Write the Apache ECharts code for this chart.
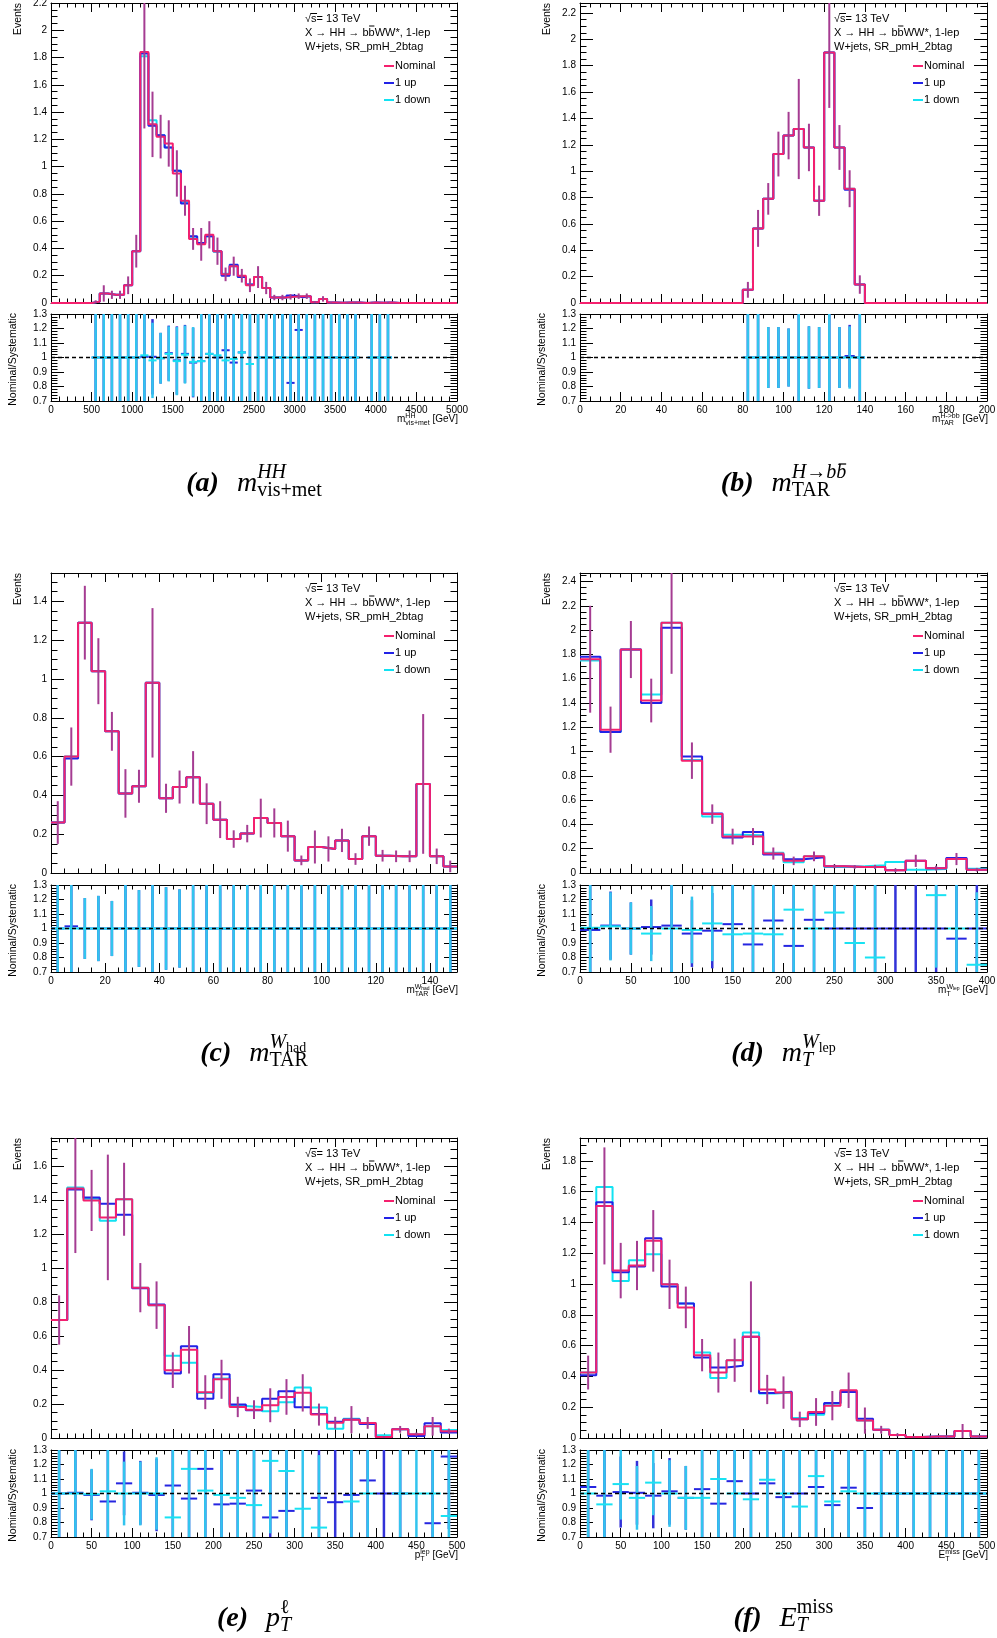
<!DOCTYPE html>
<html>
<head>
<meta charset="utf-8">
<title>W+jets, SR_pmH_2btag systematic variations</title>
<script src="https://cdn.jsdelivr.net/npm/echarts@6.0.0/dist/echarts.min.js"></script>
<style>
html,body{margin:0;padding:0;background:#fff;}
#chart{width:997px;height:1638px;}
</style>
</head>
<body>
<div id="chart"></div>
<script>
// ======================= DATA =======================
// (a) m_vis+met^HH : 50 bins, 0 - 5000 GeV
const aRange = [0, 5000];
const aNominal = [0,0,0,0,0, 0.01,0.07,0.06,0.06,0.13, 0.38,1.84,1.31,1.22,1.17, 0.95,0.75,0.47,0.43,0.50, 0.38,0.21,0.27,0.20,0.13, 0.19,0.11,0.04,0.04,0.045, 0.05,0.05,0.005,0.03,0.003, 0.002,0.003,0.003,0,0.004, 0.002,0.004,0,0,0, 0,0,0,0,0];
const aUp      = [0,0,0,0,0, 0.01,0.07,0.06,0.06,0.13, 0.38,1.83,1.30,1.23,1.14, 0.97,0.73,0.49,0.44,0.49, 0.38,0.20,0.28,0.19,0.136, 0.19,0.11,0.04,0.04,0.055, 0.042,0.05,0.005,0.03,0.003, 0.002,0.003,0.003,0,0.004, 0.002,0.004,0,0,0, 0,0,0,0,0];
const aDown    = [0,0,0,0,0, 0.01,0.07,0.06,0.06,0.13, 0.38,1.81,1.34,1.23,1.14, 0.97,0.74,0.485,0.44,0.49, 0.375,0.215,0.27,0.19,0.136, 0.19,0.11,0.04,0.04,0.045, 0.05,0.05,0.005,0.03,0.003, 0.002,0.003,0.003,0,0.004, 0.002,0.004,0,0,0, 0,0,0,0,0];
const aErr     = [0,0,0,0,0, 0.01,0.06,0.03,0.03,0.065, 0.12,0.56,0.24,0.16,0.17, 0.17,0.11,0.08,0.12,0.10, 0.10,0.05,0.07,0.05,0.05, 0.08,0.045,0.02,0.02,0.02, 0.02,0.02,0.005,0.02,0.003, 0.002,0.003,0.003,0,0.004, 0.002,0.004,0,0,0, 0,0,0,0,0];
const aRatioUp   = [null,null,null,null,null, 1,1,1,1,1, 1,1.005,1.005,0.995,1.03, 0.98,1.025,0.965,0.975,1.025, 1.0,1.05,0.965,1.035,0.955, 1,1,1,1,0.825, 1.19,1,1,1,1, 1,1,1,null,1, 1,1,null,null,null, null,null,null,null,null];
const aRatioDown = [null,null,null,null,null, 1,1,1,1,1, 1,1.015,0.98,0.995,1.025, 0.975,1.02,0.97,0.975,1.025, 1.015,0.98,0.99,1.035,0.955, 1,1,1,1,1, 1,1,1,1,1, 1,1,1,null,1, 1,1,null,null,null, null,null,null,null,null];
const aRatioErr  = [null,null,null,null,null, 0.5,0.5,0.5,0.5,0.5, 0.5,0.35,0.26,0.175,0.19, 0.235,0.2,0.24,0.5,0.5, 0.5,0.5,0.5,0.5,0.5, 0.5,0.5,0.5,0.5,0.5, 0.5,0.5,0.5,0.5,0.5, 0.5,0.5,0.5,null,0.5, 0.5,0.5,null,null,null, null,null,null,null,null];

// (b) m_TAR^{H->bb} : 40 bins, 0 - 200 GeV
const bRange = [0, 200];
const bNominal = [0,0,0,0,0,0,0,0,0,0, 0,0,0,0,0,0,0.10,0.566,0.79,1.13, 1.27,1.32,1.18,0.776,1.90,1.18,0.867,0.14,0,0, 0,0,0,0,0,0,0,0,0,0];
const bUp      = [0,0,0,0,0,0,0,0,0,0, 0,0,0,0,0,0,0.10,0.566,0.79,1.13, 1.27,1.32,1.18,0.776,1.90,1.18,0.86,0.14,0,0, 0,0,0,0,0,0,0,0,0,0];
const bDown    = [0,0,0,0,0,0,0,0,0,0, 0,0,0,0,0,0,0.10,0.566,0.79,1.13, 1.27,1.32,1.18,0.776,1.90,1.18,0.867,0.14,0,0, 0,0,0,0,0,0,0,0,0,0];
const bErr     = [0,0,0,0,0,0,0,0,0,0, 0,0,0,0,0,0,0.06,0.14,0.12,0.17, 0.18,0.38,0.18,0.115,0.42,0.17,0.14,0.07,0,0, 0,0,0,0,0,0,0,0,0,0];
const bRatioUp   = [null,null,null,null,null,null,null,null,null,null, null,null,null,null,null,null,1,1,1,1, 1,1,1,1,1,1,1.01,1,null,null, null,null,null,null,null,null,null,null,null,null];
const bRatioDown = [null,null,null,null,null,null,null,null,null,null, null,null,null,null,null,null,1,1,1,1, 1,1,1,1,1,1,1,1,null,null, null,null,null,null,null,null,null,null,null,null];
const bRatioErr  = [null,null,null,null,null,null,null,null,null,null, null,null,null,null,null,null,0.5,0.5,0.21,0.21, 0.2,0.5,0.215,0.21,0.5,0.21,0.215,0.5,null,null, null,null,null,null,null,null,null,null,null,null];

// (c) m_TAR^{W_had} : 30 bins, 0 - 150 GeV
const cRange = [0, 150];
const cNominal = [0.26,0.60,1.29,1.04,0.73, 0.41,0.447,0.98,0.385,0.443, 0.493,0.357,0.275,0.175,0.203, 0.283,0.258,0.19,0.065,0.134, 0.124,0.168,0.072,0.19,0.089, 0.086,0.086,0.459,0.086,0.034];
const cUp      = [0.26,0.59,1.29,1.04,0.73, 0.41,0.447,0.98,0.385,0.443, 0.493,0.357,0.275,0.175,0.203, 0.283,0.258,0.19,0.065,0.134, 0.124,0.168,0.072,0.19,0.089, 0.086,0.086,0.459,0.086,0.034];
const cDown    = [0.26,0.60,1.29,1.04,0.73, 0.41,0.447,0.98,0.385,0.443, 0.493,0.357,0.275,0.175,0.203, 0.283,0.258,0.19,0.065,0.134, 0.124,0.168,0.072,0.19,0.089, 0.086,0.086,0.459,0.086,0.034];
const cErr     = [0.11,0.15,0.19,0.17,0.10, 0.125,0.085,0.385,0.075,0.085, 0.135,0.105,0.095,0.045,0.045, 0.10,0.075,0.08,0.025,0.085, 0.065,0.06,0.03,0.05,0.03, 0.03,0.03,0.36,0.04,0.03];
const cRatioUp   = [1,1.015,1,1,1, 1,1,1,1,1, 1,1,1,1,1, 1,1,1,1,1, 1,1,1,1,1, 1,1,1,1,1];
const cRatioDown = [1,1,1,1,1, 1,1,1,1,1, 1,1,1,1,1, 1,1,1,1,1, 1,1,1,1,1, 1,1,1,1,1];
const cRatioErr  = [0.5,0.5,0.21,0.225,0.19, 0.5,0.265,0.5,0.285,0.27, 0.5,0.5,0.5,0.5,0.5, 0.5,0.5,0.5,0.5,0.5, 0.5,0.5,0.5,0.5,0.5, 0.5,0.5,0.5,0.5,0.5];

// (d) m_T^{W_lep} : 20 bins, 0 - 400 GeV
const dRange = [0, 400];
const dNominal = [1.76,1.18,1.84,1.42,2.06, 0.925,0.485,0.30,0.30,0.16, 0.10,0.137,0.055,0.05,0.05, 0.022,0.10,0.04,0.115,0.027];
const dUp      = [1.78,1.16,1.84,1.40,2.02, 0.96,0.49,0.293,0.337,0.152, 0.114,0.13,0.055,0.05,0.05, 0.022,0.10,0.04,0.124,0.027];
const dDown    = [1.75,1.16,1.84,1.47,2.06, 0.93,0.466,0.315,0.31,0.167, 0.088,0.137,0.05,0.056,0.063, 0.09,0.027,0.033,0.115,0.036];
const dErr     = [0.44,0.19,0.235,0.18,0.42, 0.15,0.08,0.065,0.07,0.05, 0.035,0.04,0.015,0.015,0.017, 0.015,0.05,0.02,0.05,0.015];
const dRatioUp   = [0.99,1.02,1.0,1.01,1.02, 0.965,0.985,1.03,0.89,1.055, 0.88,1.06,1.0,1.0,1.0, 1.0,1.0,1.0,0.93,1.0];
const dRatioDown = [1.005,1.015,1.0,0.965,1.0, 0.99,1.035,0.96,0.965,0.96, 1.13,1.0,1.11,0.9,0.8, 0.24,3.7,1.23,1.0,0.75];
const dRatioErr  = [0.5,0.235,0.18,0.19,0.5, 0.23,0.26,0.5,0.5,0.5, 0.5,0.5,0.5,0.5,0.5, 0.5,0.5,0.5,0.5,0.5];

// (e) p_T^lep : 25 bins, 0 - 500 GeV
const eRange = [0, 500];
const eNominal = [0.695,1.47,1.40,1.30,1.407, 0.886,0.783,0.40,0.52,0.27, 0.346,0.183,0.167,0.193,0.242, 0.266,0.138,0.09,0.108,0.089, 0.006,0.051,0.022,0.069,0.04];
const eUp      = [0.695,1.465,1.417,1.38,1.315, 0.882,0.787,0.38,0.54,0.232, 0.376,0.197,0.164,0.231,0.275, 0.181,0.142,0.096,0.109,0.082, 0.006,0.051,0.012,0.087,0.032];
const eDown    = [0.695,1.476,1.41,1.28,1.407, 0.886,0.783,0.484,0.443,0.265, 0.35,0.189,0.182,0.157,0.21, 0.297,0.18,0.055,0.114,0.089, 0.016,0.051,0.022,0.069,0.047];
const eErr     = [0.145,0.38,0.18,0.37,0.215, 0.145,0.14,0.105,0.14,0.10, 0.115,0.06,0.055,0.1,0.105, 0.11,0.065,0.035,0.08,0.035, 0.005,0.02,0.01,0.055,0.015];
const eRatioUp   = [1.0,1.005,0.99,0.945,1.07, 1.005,0.99,1.055,0.965,1.17, 0.925,0.93,1.02,0.835,0.88, 1.47,0.97,0.94,0.99,1.09, 1.0,1.0,1.83,0.795,1.255];
const eRatioDown = [1.0,1.0,0.995,1.015,1.0, 1.0,1.0,0.835,1.17,1.02, 0.99,0.97,0.92,1.225,1.155, 0.895,0.765,1.64,0.945,1.0, 0.375,1.0,1.0,1.0,0.845];
const eRatioErr  = [0.5,0.5,0.175,0.5,0.22, 0.22,0.25,0.5,0.5,0.5, 0.5,0.5,0.5,0.5,0.5, 0.5,0.5,0.5,0.5,0.5, 0.5,0.5,0.5,0.5,0.5];

// (f) E_T^miss : 25 bins, 0 - 500 GeV
const fRange = [0, 500];
const fNominal = [0.425,1.507,1.087,1.12,1.28, 0.998,0.848,0.538,0.425,0.505, 0.657,0.315,0.295,0.121,0.169, 0.21,0.31,0.113,0.054,0.02, 0.006,0.01,0.01,0.046,0.01];
const fUp      = [0.408,1.53,1.076,1.113,1.297, 0.983,0.874,0.523,0.458,0.469, 0.657,0.293,0.3,0.121,0.162, 0.228,0.298,0.125,0.054,0.02, 0.006,0.01,0.01,0.046,0.01];
const fDown    = [0.425,1.63,1.02,1.154,1.193, 0.998,0.874,0.555,0.39,0.505, 0.685,0.289,0.295,0.13,0.151, 0.222,0.305,0.113,0.054,0.02, 0.006,0.01,0.01,0.046,0.01];
const fErr     = [0.11,0.38,0.18,0.16,0.2, 0.16,0.135,0.105,0.13,0.14, 0.36,0.095,0.105,0.05,0.09, 0.095,0.115,0.085,0.025,0.01, 0.005,0.005,0.005,0.045,0.005];
const fRatioUp   = [1.045,0.985,1.01,1.005,0.985, 1.015,0.97,1.03,0.93,1.085, 1.0,1.07,0.975,1.0,1.045, 0.92,1.04,0.90,1,1, 1,1,1,1,1];
const fRatioDown = [1.0,0.925,1.065,0.97,1.075, 1.0,0.97,0.97,1.10,1.0, 0.96,1.095,1.0,0.91,1.12, 0.945,1.015,1.0,1,1, 1,1,1,1,1];
const fRatioErr  = [0.5,0.5,0.245,0.22,0.225, 0.23,0.22,0.5,0.5,0.5, 0.5,0.5,0.5,0.5,0.5, 0.5,0.5,0.5,0.5,0.5, 0.5,0.5,0.5,0.5,0.5];

// Text labels
const infoLines = ['\u221As= 13 TeV', 'X \u2192 HH \u2192 bbWW*, 1-lep', 'W+jets, SR_pmH_2btag'];
const legendLabels = ['Nominal', '1 up', '1 down'];
const yTitleMain = 'Events';
const yTitleRatio = 'Nominal/Systematic';

// ======================= STYLE / LAYOUT =======================
const COL_NOM = '#f5206e', COL_UP = '#2222e6', COL_DN = '#12e2f2', COL_ERR = '#a53c92';
const COL_RUP_H = '#2525e0', COL_RUP_V = '#3232d8', COL_RDN_H = '#18e2f2', COL_RDN_V = '#32c4ee';
const SANS = 'Liberation Sans', SERIF = 'Liberation Serif';

const colL = [51, 580], colR = [457, 987];
const mainT = [3, 573, 1138], mainB = [303, 873, 1438];
const ratT = [314, 885, 1450], ratB = [401, 972, 1537];

function Lf(t, s, o) { return Object.assign({ t: t, s: s }, o || {}); }
const CAP = 28, SCR = 20, SS = 14, UPD = -13, DND = 5;
function capHead(letter) { return [Lf('(' + letter + ')', CAP, { i: 1, b: 1 }), { gap: 18 }]; }
const captions = [
  capHead('a').concat([Lf('m', CAP, { i: 1 }), { sup: [Lf('HH', SCR, { i: 1, dy: UPD })], sub: [Lf('vis+met', SCR, { dy: DND })] }]),
  capHead('b').concat([Lf('m', CAP, { i: 1 }), { sup: [Lf('H', SCR, { i: 1, dy: UPD }), Lf('\u2192', SCR, { dy: UPD }), Lf('b', SCR, { i: 1, dy: UPD }), Lf('b', SCR, { i: 1, dy: UPD, ov: 1 })], sub: [Lf('TAR', SCR, { dy: DND })] }]),
  capHead('c').concat([Lf('m', CAP, { i: 1 }), { sup: [Lf('W', SCR, { i: 1, dy: UPD }), { sub: [Lf('had', SS, { dy: UPD + 3 })] }], sub: [Lf('TAR', SCR, { dy: DND })] }]),
  capHead('d').concat([Lf('m', CAP, { i: 1 }), { sup: [Lf('W', SCR, { i: 1, dy: UPD }), { sub: [Lf('lep', SS, { dy: UPD + 3 })] }], sub: [Lf('T', SCR, { i: 1, dy: DND })] }]),
  capHead('e').concat([Lf('p', CAP, { i: 1 }), { sup: [Lf('\u2113', SCR, { dy: UPD })], sub: [Lf('T', SCR, { i: 1, dy: DND })] }]),
  capHead('f').concat([Lf('E', CAP, { i: 1 }), { sup: [Lf('miss', SCR, { dy: UPD })], sub: [Lf('T', SCR, { i: 1, dy: DND })] }])
];
const GEV = Lf(' [GeV]', 10);
const xTitles = [
  [Lf('m', 10), { sup: [Lf('HH', 7, { dy: -5 })], sub: [Lf('vis+met', 7, { dy: 2.5 })] }, GEV],
  [Lf('m', 10), { sup: [Lf('H->bb', 7, { dy: -5 })], sub: [Lf('TAR', 7, { dy: 2.5 })] }, GEV],
  [Lf('m', 10), { sup: [Lf('W', 7, { dy: -5 }), { sub: [Lf('had', 5, { dy: -3.5 })] }], sub: [Lf('TAR', 7, { dy: 2.5 })] }, GEV],
  [Lf('m', 10), { sup: [Lf('W', 7, { dy: -5 }), { sub: [Lf('lep', 5, { dy: -3.5 })] }], sub: [Lf('T', 7, { dy: 2.5 })] }, GEV],
  [Lf('p', 10), { sup: [Lf('lep', 7, { dy: -5 })], sub: [Lf('T', 7, { dy: 2.5 })] }, GEV],
  [Lf('E', 10), { sup: [Lf('miss', 7, { dy: -5 })], sub: [Lf('T', 7, { dy: 2.5 })] }, GEV]
];

const panels = [
  { range: aRange, nom: aNominal, up: aUp, dn: aDown, err: aErr, rUp: aRatioUp, rDn: aRatioDown, rErr: aRatioErr, xInt: 500, xSplit: 5, yMax: 2.2,   col: 0, row: 0 },
  { range: bRange, nom: bNominal, up: bUp, dn: bDown, err: bErr, rUp: bRatioUp, rDn: bRatioDown, rErr: bRatioErr, xInt: 20,  xSplit: 4, yMax: 2.276, col: 1, row: 0 },
  { range: cRange, nom: cNominal, up: cUp, dn: cDown, err: cErr, rUp: cRatioUp, rDn: cRatioDown, rErr: cRatioErr, xInt: 20,  xSplit: 4, yMax: 1.546, col: 0, row: 1 },
  { range: dRange, nom: dNominal, up: dUp, dn: dDown, err: dErr, rUp: dRatioUp, rDn: dRatioDown, rErr: dRatioErr, xInt: 50,  xSplit: 5, yMax: 2.47,  col: 1, row: 1 },
  { range: eRange, nom: eNominal, up: eUp, dn: eDown, err: eErr, rUp: eRatioUp, rDn: eRatioDown, rErr: eRatioErr, xInt: 50,  xSplit: 5, yMax: 1.768, col: 0, row: 2 },
  { range: fRange, nom: fNominal, up: fUp, dn: fDown, err: fErr, rUp: fRatioUp, rDn: fRatioDown, rErr: fRatioErr, xInt: 50,  xSplit: 5, yMax: 1.948, col: 1, row: 2 }
];

// ======================= HELPERS =======================
const mctx = document.createElement('canvas').getContext('2d');
function fontOf(it, fam) { return (it.i ? 'italic ' : '') + (it.b ? 'bold ' : '') + it.s + 'px "' + fam + '"'; }
function measure(text, font) { mctx.font = font; return mctx.measureText(text).width; }
function itemW(it, fam) {
  if (it.gap) return it.gap;
  if (it.sup || it.sub) return Math.max(it.sup ? seqW(it.sup, fam) : 0, it.sub ? seqW(it.sub, fam) : 0);
  return measure(it.t, fontOf(it, fam));
}
function seqW(arr, fam) { return arr.reduce(function (w, it) { return w + itemW(it, fam); }, 0); }
function textEl(str, x, yMid, font, extra, styleExtra) {
  return Object.assign({
    type: 'text', x: x, y: yMid, silent: true, z: 20,
    style: Object.assign({ text: str, font: font, fill: '#000', align: 'left', verticalAlign: 'middle', textAlign: 'left', textVerticalAlign: 'middle' }, styleExtra || {})
  }, extra || {});
}
function lineEl(x1, y1, x2, y2, color, w) {
  return { type: 'line', silent: true, z: 20, shape: { x1: x1, y1: y1, x2: x2, y2: y2 }, style: { stroke: color, lineWidth: w } };
}
function emitSeq(arr, x, base, fam, out) {
  arr.forEach(function (it) {
    if (it.sup || it.sub) {
      if (it.sup) emitSeq(it.sup, x, base, fam, out);
      if (it.sub) emitSeq(it.sub, x, base, fam, out);
    } else if (!it.gap) {
      const b = base + (it.dy || 0);
      out.push(textEl(it.t, x, b - 0.34 * it.s, fontOf(it, fam)));
      if (it.ov) {
        const w = itemW(it, fam);
        out.push(lineEl(x + w * 0.25, b - it.s * 0.8, x + w * 1.0, b - it.s * 0.8, '#000', Math.max(1, it.s / 16)));
      }
    }
    x += itemW(it, fam);
  });
}
function placeMath(arr, x, base, fam, align, out) {
  const w = seqW(arr, fam);
  const x0 = align === 'right' ? x - w : (align === 'center' ? x - w / 2 : x);
  emitSeq(arr, x0, base, fam, out);
}
function fmtNum(v) { return String(Number(v.toFixed(3))); }
function multipleLabel(step) {
  return function (v) { const q = v / step; return Math.abs(q - Math.round(q)) < 1e-6 ? fmtNum(v) : ''; };
}
function labelCfg(step, margin) {
  return { show: true, margin: margin, fontSize: 10, fontFamily: SANS, color: '#000', formatter: multipleLabel(step), showMinLabel: true, showMaxLabel: true };
}

// ======================= BUILD OPTION =======================
const grid = [], xAxis = [], yAxis = [], series = [], elements = [];

function addAxis(isX, gridIndex, pos, min, max, interval, len, label, showLine) {
  const ax = {
    type: 'value', gridIndex: gridIndex, position: pos, min: min, max: max, interval: interval, silent: true,
    axisLine: { show: !!showLine, onZero: false, lineStyle: { color: '#000', width: 1 } },
    axisTick: { show: true, inside: true, length: len, lineStyle: { color: '#000', width: 1 } },
    minorTick: { show: false }, splitLine: { show: false }, minorSplitLine: { show: false }, splitArea: { show: false },
    axisLabel: label || { show: false }, axisPointer: { show: false }
  };
  const arr = isX ? xAxis : yAxis;
  arr.push(ax);
  return arr.length - 1;
}

panels.forEach(function (p, k) {
  const L = colL[p.col], R = colR[p.col];
  const T = mainT[p.row], B = mainB[p.row], RT = ratT[p.row], RB = ratB[p.row];
  const xMin = p.range[0], xMax = p.range[1];
  const n = p.nom.length, w = (xMax - xMin) / n;
  const xMinorInt = p.xInt / p.xSplit;

  const gm = grid.length;
  grid.push({ left: L, top: T, width: R - L, height: B - T, containLabel: false, outerBoundsMode: 'none' });
  const gr = grid.length;
  grid.push({ left: L, top: RT, width: R - L, height: RB - RT, containLabel: false, outerBoundsMode: 'none' });

  // main pad axes (ticks on all four sides)
  const xm = addAxis(true, gm, 'bottom', xMin, xMax, p.xInt, 9, null, true);
  addAxis(true, gm, 'bottom', xMin, xMax, xMinorInt, 4.5, null, false);
  addAxis(true, gm, 'top', xMin, xMax, p.xInt, 9, null, true);
  addAxis(true, gm, 'top', xMin, xMax, xMinorInt, 4.5, null, false);
  const ym = addAxis(false, gm, 'left', 0, p.yMax, 0.2, 13, labelCfg(0.2, 4), true);
  addAxis(false, gm, 'left', 0, p.yMax, 0.05, 6.5, null, false);
  addAxis(false, gm, 'right', 0, p.yMax, 0.2, 13, null, true);
  addAxis(false, gm, 'right', 0, p.yMax, 0.05, 6.5, null, false);

  // ratio pad axes
  const xr = addAxis(true, gr, 'bottom', xMin, xMax, p.xInt, 9, labelCfg(p.xInt, 4), true);
  addAxis(true, gr, 'bottom', xMin, xMax, xMinorInt, 4.5, null, false);
  addAxis(true, gr, 'top', xMin, xMax, p.xInt, 9, null, true);
  addAxis(true, gr, 'top', xMin, xMax, xMinorInt, 4.5, null, false);
  const yr = addAxis(false, gr, 'left', 0.7, 1.3, 0.1, 13, labelCfg(0.1, 4), true);
  addAxis(false, gr, 'left', 0.7, 1.3, 0.02, 6.5, null, false);
  addAxis(false, gr, 'right', 0.7, 1.3, 0.1, 13, null, true);
  addAxis(false, gr, 'right', 0.7, 1.3, 0.02, 6.5, null, false);

  // step histograms
  function stepPoints(vals) {
    const d = vals.map(function (v, i) { return [xMin + i * w, v]; });
    d.push([xMin + n * w, vals[n - 1]]);
    return d;
  }
  [[p.dn, COL_DN], [p.up, COL_UP], [p.nom, COL_NOM]].forEach(function (s, j) {
    series.push({
      type: 'line', xAxisIndex: xm, yAxisIndex: ym, data: stepPoints(s[0]), step: 'end',
      symbol: 'none', showSymbol: false, silent: true, clip: true, z: 3 + j,
      lineStyle: { color: s[1], width: 2 }, itemStyle: { color: s[1] }
    });
  });
  // nominal statistical error bars
  series.push({
    type: 'custom', xAxisIndex: xm, yAxisIndex: ym, clip: true, silent: true, z: 7,
    data: p.nom.map(function (v, i) { return [xMin + (i + 0.5) * w, v, p.err[i]]; }).filter(function (d) { return d[2] > 0; }),
    renderItem: function (params, api) {
      const x = api.value(0), y = api.value(1), e = api.value(2);
      const a = api.coord([x, y - e]), b = api.coord([x, y + e]);
      return { type: 'line', shape: { x1: a[0], y1: a[1], x2: b[0], y2: b[1] }, style: { stroke: COL_ERR, lineWidth: 2 } };
    }
  });

  // ratio points
  function ratioSeries(vals, hCol, vCol, z) {
    const data = [];
    vals.forEach(function (r, i) {
      if (r == null || p.rErr[i] == null) return;
      if (r < 0.7 || r > 1.3) return;
      data.push([xMin + i * w, xMin + (i + 1) * w, r, p.rErr[i]]);
    });
    return {
      type: 'custom', xAxisIndex: xr, yAxisIndex: yr, clip: true, silent: true, z: z, data: data,
      renderItem: function (params, api) {
        const x0 = api.value(0), x1 = api.value(1), r = api.value(2), e = api.value(3);
        const xc = (x0 + x1) / 2;
        const a = api.coord([x0, r]), b = api.coord([x1, r]);
        const c1 = api.coord([xc, r - e]), c2 = api.coord([xc, r + e]);
        return {
          type: 'group', children: [
            { type: 'line', shape: { x1: c1[0], y1: c1[1], x2: c2[0], y2: c2[1] }, style: { stroke: vCol, lineWidth: 2.5 } },
            { type: 'line', shape: { x1: a[0], y1: a[1], x2: b[0], y2: b[1] }, style: { stroke: hCol, lineWidth: 2 } }
          ]
        };
      }
    };
  }
  series.push(ratioSeries(p.rUp, COL_RUP_H, COL_RUP_V, 4));
  series.push(ratioSeries(p.rDn, COL_RDN_H, COL_RDN_V, 5));
  series.push({
    type: 'line', xAxisIndex: xr, yAxisIndex: yr, data: [[xMin, 1], [xMax, 1]], symbol: 'none', showSymbol: false,
    silent: true, z: 8, lineStyle: { color: '#000', width: 1.5, type: [4, 3] }
  });

  // ---- texts ----
  const f11 = '11px "' + SANS + '"';
  const ix = L + 254;
  elements.push(textEl(infoLines[0], ix, T + 16, f11));
  const wSq = measure('\u221A', f11), wSqS = measure('\u221As', f11);
  elements.push(lineEl(ix + wSq - 0.5, T + 10.5, ix + wSqS + 0.5, T + 10.5, '#000', 1));
  elements.push(textEl(infoLines[1], ix, T + 30, f11));
  const w1 = measure('X \u2192 HH \u2192 b', f11), w2 = measure('X \u2192 HH \u2192 bb', f11);
  elements.push(lineEl(ix + w1 + 0.5, T + 23, ix + w2 - 0.3, T + 23, '#000', 1));
  elements.push(textEl(infoLines[2], ix, T + 44, f11));
  [[legendLabels[0], COL_NOM, 63], [legendLabels[1], COL_UP, 80], [legendLabels[2], COL_DN, 97]].forEach(function (e) {
    elements.push(lineEl(L + 333, T + e[2], L + 343, T + e[2], e[1], 2));
    elements.push(textEl(e[0], L + 344, T + e[2], f11));
  });
  // axis titles
  const f105 = '10.5px "' + SANS + '"';
  elements.push(textEl(yTitleMain, L - 32.5, T, f105, { rotation: Math.PI / 2 }, { align: 'right', textAlign: 'right' }));
  elements.push(textEl(yTitleRatio, L - 37.5, RT - 1, f105, { rotation: Math.PI / 2 }, { align: 'right', textAlign: 'right' }));
  placeMath(xTitles[k], R + 1, RB + 22, SANS, 'right', elements);
  // caption
  placeMath(captions[k], (L + R) / 2, T + 490, SERIF, 'center', elements);
});

const option = {
  animation: false,
  backgroundColor: '#ffffff',
  grid: grid, xAxis: xAxis, yAxis: yAxis, series: series,
  graphic: { elements: elements }
};
const chart = echarts.init(document.getElementById('chart'), null, { renderer: 'canvas', width: 997, height: 1638 });
chart.setOption(option);
</script>
</body>
</html>
